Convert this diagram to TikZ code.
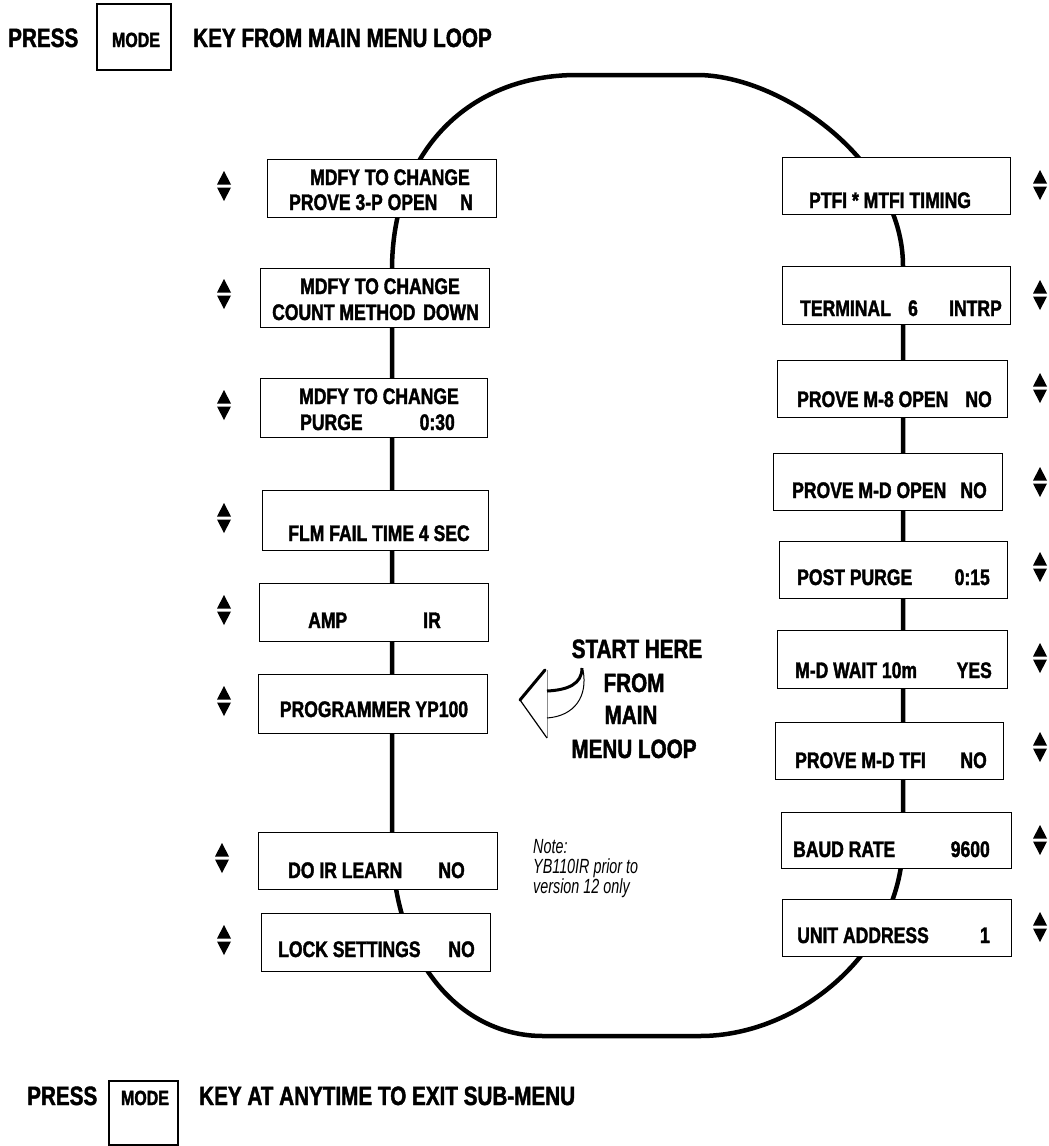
\documentclass[tikz,border=0pt]{standalone}
\usepackage{fontspec}
\setmainfont{Liberation Sans}[FakeStretch=0.8]
\newfontfamily\heavyfont{Liberation Sans Bold}[FakeStretch=0.78, FakeBold=1.6]
\newfontfamily\notefont{Liberation Sans}[FakeStretch=0.7]
\tikzset{
  lcd/.style={draw, line width=1.3pt, fill=white, inner sep=0pt, anchor=north west},
  lbl/.style={inner sep=0pt, font=\fontsize{22.5}{25}\heavyfont},
  head/.style={inner sep=0pt, font=\fontsize{26.5}{30}\heavyfont},
  keycap/.style={draw, line width=2pt, inner sep=0pt, anchor=north west},
  updn/.pic={\fill (-7,-1.5) -- (7,-1.5) -- (0,-15) -- cycle;
             \fill (-7,1.5) -- (7,1.5) -- (0,15) -- cycle;}
}
\begin{document}
\begin{tikzpicture}[x=1pt,y=-1pt]
      \useasboundingbox (0,0) rectangle (1049,1146);
      % header
      \node[head, anchor=base west] (p1) at (8,47) {PRESS};
      \node[keycap, minimum width=74, minimum height=66] (k1) at (96,3) {};
      \node[lbl, font=\fontsize{20.5}{24}\heavyfont, anchor=base] (m1) at (136,47) {MODE};
      \node[head, anchor=base west] (h1) at (193,47) {KEY FROM MAIN MENU LOOP};
      % the loop
      \draw[line width=4.5pt] (392,560) -- (392,270) .. controls (392,150) and (470,75) .. (577,75)
        -- (697,75) .. controls (780,75) and (903,160) .. (903,266) -- (903,840)
        .. controls (903,950) and (800,1036) .. (700,1036) -- (543,1036)
        .. controls (460,1036) and (392,960) .. (392,840) -- cycle;
      % left column
      \node[lcd, minimum width=229, minimum height=58] (l1) at (267,159) {};
      \node[lcd, minimum width=229, minimum height=59] (l2) at (260,268) {};
      \node[lcd, minimum width=227, minimum height=59] (l3) at (260,378) {};
      \node[lcd, minimum width=226, minimum height=60] (l4) at (262,490) {};
      \node[lcd, minimum width=229, minimum height=58] (l5) at (259,583) {};
      \node[lcd, minimum width=229, minimum height=59] (l6) at (258,674) {};
      \node[lcd, minimum width=239, minimum height=57] (l7) at (258,832) {};
      \node[lcd, minimum width=229, minimum height=58] (l8) at (261,913) {};
      \node[lbl, anchor=base] (l1a) at (390,185) {MDFY TO CHANGE};
      \node[lbl, anchor=base west] (l1b) at (289,210) {PROVE 3-P OPEN};
      \node[lbl, anchor=base east] (l1c) at (473,210) {N};
      \node[lbl, anchor=base] (l2a) at (380,294) {MDFY TO CHANGE};
      \node[lbl, anchor=base west] (l2b) at (272,320) {COUNT METHOD};
      \node[lbl, anchor=base east] (l2c) at (479,320) {DOWN};
      \node[lbl, anchor=base] (l3a) at (379,404) {MDFY TO CHANGE};
      \node[lbl, anchor=base west] (l3b) at (300,430) {PURGE};
      \node[lbl, anchor=base east] (l3c) at (455,430) {0:30};
      \node[lbl, anchor=base] (l4a) at (379,541) {FLM FAIL TIME 4 SEC};
      \node[lbl, anchor=base west] (l5a) at (308,628) {AMP};
      \node[lbl, anchor=base east] (l5b) at (441,628) {IR};
      \node[lbl, anchor=base] (l6a) at (374,717) {PROGRAMMER YP100};
      \node[lbl, anchor=base west] (l7a) at (288,878) {DO IR LEARN};
      \node[lbl, anchor=base east] (l7b) at (465,878) {NO};
      \node[lbl, anchor=base west] (l8a) at (278,957) {LOCK SETTINGS};
      \node[lbl, anchor=base east] (l8b) at (475,957) {NO};
      \pic at (224,186) {updn};
      \pic at (224,294) {updn};
      \pic at (224,405) {updn};
      \pic at (224,518) {updn};
      \pic at (224,610) {updn};
      \pic at (224,701) {updn};
      \pic at (222,858) {updn};
      \pic at (224,940) {updn};
      % right column
      \node[lcd, minimum width=228, minimum height=57] (r1) at (782,157) {};
      \node[lcd, minimum width=228, minimum height=58] (r2) at (782,266) {};
      \node[lcd, minimum width=230, minimum height=57] (r3) at (777,360) {};
      \node[lcd, minimum width=229, minimum height=57] (r4) at (773,453) {};
      \node[lcd, minimum width=228, minimum height=57] (r5) at (779,541) {};
      \node[lcd, minimum width=230, minimum height=58] (r6) at (777,630) {};
      \node[lcd, minimum width=228, minimum height=57] (r7) at (775,722) {};
      \node[lcd, minimum width=230, minimum height=56] (r8) at (781,812) {};
      \node[lcd, minimum width=229, minimum height=57] (r9) at (782,899) {};
      \node[lbl, anchor=base] (r1a) at (890,208) {PTFI * MTFI TIMING};
      \node[lbl, anchor=base west] (r2a) at (800,316) {TERMINAL};
      \node[lbl, anchor=base] (r2b) at (913,316) {6};
      \node[lbl, anchor=base east] (r2c) at (1002,316) {INTRP};
      \node[lbl, anchor=base west] (r3a) at (797,407) {PROVE M-8 OPEN};
      \node[lbl, anchor=base east] (r3b) at (992,407) {NO};
      \node[lbl, anchor=base west] (r4a) at (792,498) {PROVE M-D OPEN};
      \node[lbl, anchor=base east] (r4b) at (987,498) {NO};
      \node[lbl, anchor=base west] (r5a) at (797,585) {POST PURGE};
      \node[lbl, anchor=base east] (r5b) at (990,585) {0:15};
      \node[lbl, anchor=base west] (r6a) at (795,678) {M-D WAIT 10m};
      \node[lbl, anchor=base east] (r6b) at (992,678) {YES};
      \node[lbl, anchor=base west] (r7a) at (795,768) {PROVE M-D TFI};
      \node[lbl, anchor=base east] (r7b) at (987,768) {NO};
      \node[lbl, anchor=base west] (r8a) at (793,857) {BAUD RATE};
      \node[lbl, anchor=base east] (r8b) at (990,857) {9600};
      \node[lbl, anchor=base west] (r9a) at (797,943) {UNIT ADDRESS};
      \node[lbl, anchor=base east] (r9b) at (990,943) {1};
      \pic at (1040,185) {updn};
      \pic at (1040,295) {updn};
      \pic at (1040,388) {updn};
      \pic at (1040,482) {updn};
      \pic at (1040,567) {updn};
      \pic at (1040,658) {updn};
      \pic at (1040,747) {updn};
      \pic at (1040,840) {updn};
      \pic at (1040,927) {updn};
      % start arrow
      \draw[line width=0.6pt, black!45] (547,670) -- (547,738);
      \draw[line width=1.2pt, line join=miter] (547,738) -- (520,700);
      \draw[line width=3pt, line cap=round] (520,700) -- (545,670);
      \draw[line width=3pt] (547,691) .. controls (568,690) and (582,684) .. (582,668);
      \draw[line width=1pt] (547,718) .. controls (575,716) and (588,696) .. (583,670);
      \node[head, anchor=base] (st1) at (637,658) {START HERE};
      \node[head, anchor=base] (st2) at (634,692) {FROM};
      \node[head, anchor=base] (st3) at (631,724) {MAIN};
      \node[head, anchor=base] (st4) at (634,758) {MENU LOOP};
      % note
      \node[inner sep=0pt, anchor=base west, font=\fontsize{20.5}{20}\notefont\itshape] (n1) at (533,853) {Note:};
      \node[inner sep=0pt, anchor=base west, font=\fontsize{20.5}{20}\notefont\itshape] (n2) at (533,873) {YB110IR prior to};
      \node[inner sep=0pt, anchor=base west, font=\fontsize{20.5}{20}\notefont\itshape] (n3) at (533,893) {version 12 only};
      % footer
      \node[head, anchor=base west] (p2) at (27,1105) {PRESS};
      \node[keycap, minimum width=69, minimum height=64] (k2) at (108,1080) {};
      \node[lbl, font=\fontsize{20.5}{24}\heavyfont, anchor=base] (m2) at (145,1105) {MODE};
      \node[head, anchor=base west] (h2) at (199,1105) {KEY AT ANYTIME TO EXIT SUB-MENU};
\end{tikzpicture}
\end{document}
